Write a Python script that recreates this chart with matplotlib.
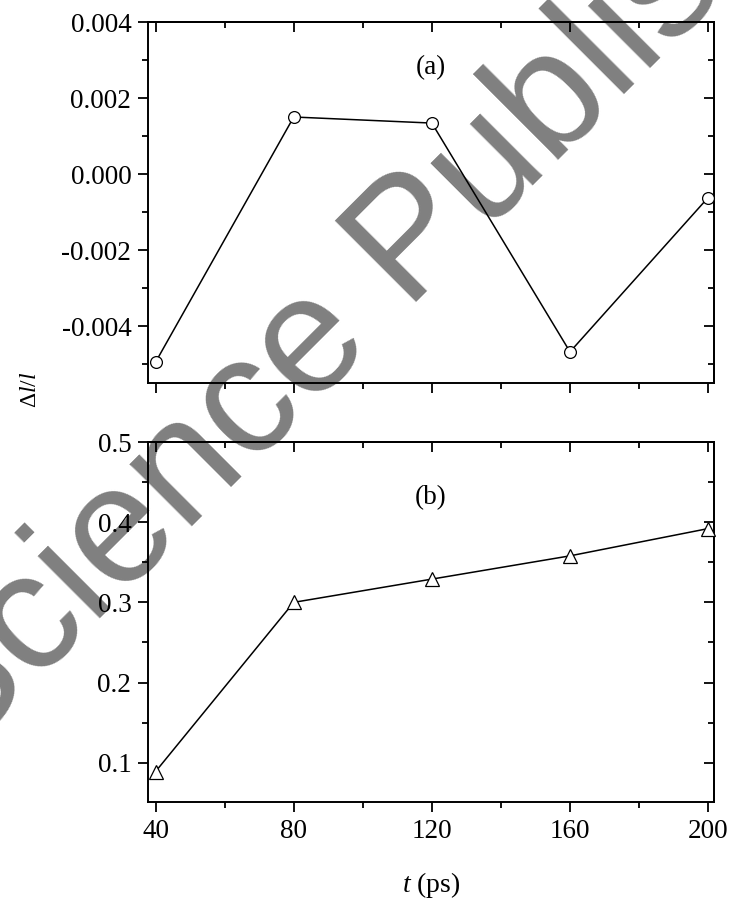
import matplotlib
matplotlib.use("Agg")
import matplotlib.pyplot as plt
from matplotlib.ticker import MultipleLocator

# ---- data ----
t_ps = [40, 80, 120, 160, 200]
dl_a = [-0.00495, 0.00150, 0.00134, -0.00468, -0.00062]
dl_b = [0.089, 0.300, 0.329, 0.358, 0.392]
xticks = [40, 80, 120, 160, 200]
yticks_a = [-0.004, -0.002, 0.000, 0.002, 0.004]
yticks_b = [0.1, 0.2, 0.3, 0.4, 0.5]

plt.rcParams['font.family'] = ['Liberation Serif', 'DejaVu Serif']
plt.rcParams['mathtext.fontset'] = 'custom'
plt.rcParams['mathtext.rm'] = 'Liberation Serif'
plt.rcParams['mathtext.it'] = 'Liberation Serif:italic'

fig = plt.figure(figsize=(7.3, 9.02), dpi=100)
W, H = 730, 902
L, R = 148 / W, 714 / W
ax1 = fig.add_axes([L, 1 - 383 / H, R - L, (383 - 22) / H])
ax2 = fig.add_axes([L, 1 - 802 / H, R - L, (802 - 442) / H])

for ax in (ax1, ax2):
    for s in ax.spines.values():
        s.set_linewidth(1.4)
    ax.set_xlim(37.8, 201.7)
    ax.set_xticks(xticks)
    ax.xaxis.set_minor_locator(MultipleLocator(20))
    ax.tick_params(which='both', direction='out', width=1.3, labelsize=19.5,
                   top=False, right=False)
    ax.tick_params(which='major', length=7, pad=5)
    ax.tick_params(which='minor', length=4)

ax1.plot(t_ps, dl_a, color='black', lw=1.1, marker='o', ms=8.5,
         mfc='white', mec='black', mew=0.9, clip_on=False, zorder=3)
ax1.set_ylim(-0.0055, 0.004)
ax1.set_yticks(yticks_a)
ax1.set_yticklabels(['%.3f' % v for v in yticks_a])
ax1.yaxis.set_minor_locator(MultipleLocator(0.001))
ax1.set_xticklabels([])
ax1.text(0.5, 0.875, '(a)', transform=ax1.transAxes, ha='center', va='center',
         fontsize=19.5)

ax2.plot(t_ps, dl_b, color='black', lw=1.1, marker='^', ms=10,
         mfc='white', mec='black', mew=0.9, clip_on=False, zorder=3)
ax2.set_ylim(0.051, 0.5)
ax2.set_yticks(yticks_b)
ax2.set_yticklabels(['%.1f' % v for v in yticks_b])
ax2.yaxis.set_minor_locator(MultipleLocator(0.05))
ax2.set_xticklabels([str(v) for v in xticks])
ax2.text(0.5, 0.845, '(b)', transform=ax2.transAxes, ha='center', va='center',
         fontsize=19.5)

# inward ticks on top and right spines
for ax in (ax1, ax2):
    sx = ax.secondary_xaxis('top')
    sx.set_xticks(xticks)
    sx.xaxis.set_minor_locator(MultipleLocator(20))
    sx.tick_params(which='both', direction='in', width=1.3, labeltop=False)
    sx.tick_params(which='major', length=7)
    sx.tick_params(which='minor', length=4)
    sx.spines['top'].set_linewidth(1.4)
    sy = ax.secondary_yaxis('right')
    sy.set_yticks(ax.get_yticks())
    sy.yaxis.set_minor_locator(ax.yaxis.get_minor_locator())
    sy.tick_params(which='both', direction='in', width=1.3, labelright=False)
    sy.tick_params(which='major', length=7)
    sy.tick_params(which='minor', length=4)
    sy.spines['right'].set_linewidth(1.4)

fig.text(30 / W, 1 - 390 / H, r'$\Delta l/l$', rotation=90, ha='center',
         va='center', fontsize=17)
fig.text(431 / W, 1 - 885 / H, r'$t$ (ps)', ha='center', va='center',
         fontsize=20)

# watermark
fig.text(-45 / W, 1 - 763 / H, 'Science Publishing', rotation=45,
         rotation_mode='anchor', ha='left', va='baseline',
         fontsize=120, family='Liberation Sans', color='black', alpha=0.5,
         zorder=10)

fig.savefig('out.png', dpi=100)
